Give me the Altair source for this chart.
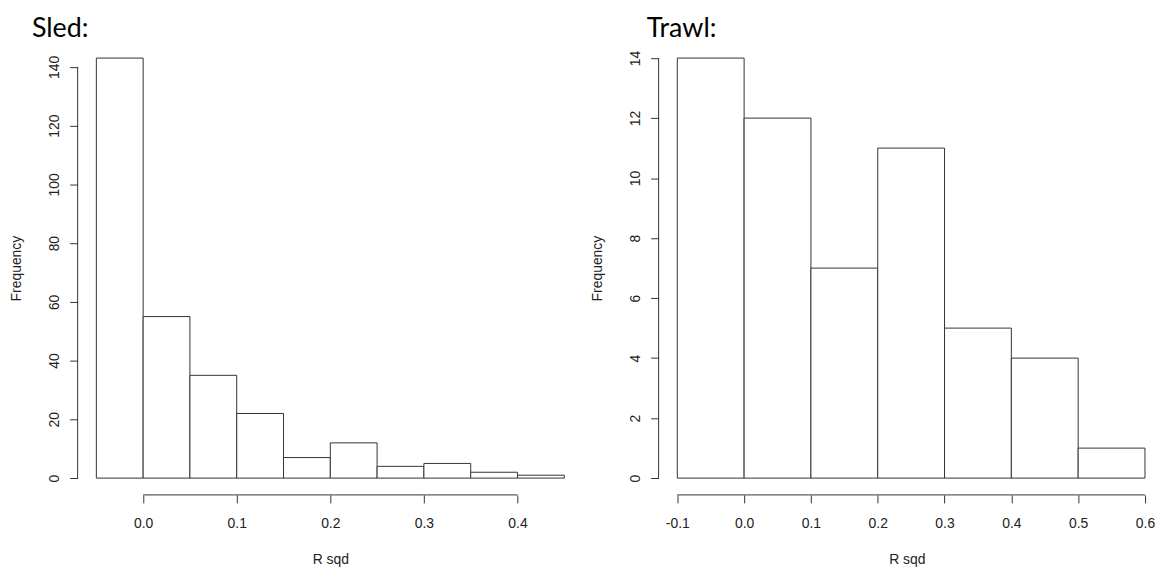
import altair as alt
import pandas as pd

# ---- data ----
sled_bin_start = [-0.05, 0.00, 0.05, 0.10, 0.15, 0.20, 0.25, 0.30, 0.35, 0.40]
sled_bin_end = [0.00, 0.05, 0.10, 0.15, 0.20, 0.25, 0.30, 0.35, 0.40, 0.45]
sled_counts = [143, 55, 35, 22, 7, 12, 4, 5, 2, 1]
sled_x_ticks = [0.0, 0.1, 0.2, 0.3, 0.4]
sled_y_ticks = [0, 20, 40, 60, 80, 100, 120, 140]

trawl_bin_start = [-0.1, 0.0, 0.1, 0.2, 0.3, 0.4, 0.5]
trawl_bin_end = [0.0, 0.1, 0.2, 0.3, 0.4, 0.5, 0.6]
trawl_counts = [14, 12, 7, 11, 5, 4, 1]
trawl_x_ticks = [-0.1, 0.0, 0.1, 0.2, 0.3, 0.4, 0.5, 0.6]
trawl_y_ticks = [0, 2, 4, 6, 8, 10, 12, 14]

FONT = "Liberation Sans"
INK = "#222222"
LINE = "#333333"


def panel(title, starts, ends, counts, xticks, yticks, xdom, ydom, w, h, title_dx):
    bars = pd.DataFrame({"start": starts, "end": ends, "count": counts})
    xscale = alt.Scale(domain=xdom, nice=False, zero=False)
    yscale = alt.Scale(domain=ydom, nice=False, zero=False)

    xaxis = alt.Axis(
        values=xticks, domain=False, grid=False, title="R sqd",
        tickSize=8, tickColor=LINE, labelPadding=14, labelFont=FONT,
        labelFontSize=14, labelColor=INK, titleFont=FONT, titleFontSize=14,
        titleFontWeight="normal", titleColor=INK, titlePadding=22,
        labelExpr="replace(format(datum.value, '.1f'), '\u2212', '-')",
    )
    yaxis = alt.Axis(
        values=yticks, domain=False, grid=False, title="Frequency",
        tickSize=8, tickColor=LINE, labelPadding=8, labelFont=FONT,
        labelFontSize=14, labelColor=INK, labelAngle=270, format="d",
        titleFont=FONT, titleFontSize=14, titleFontWeight="normal",
        titleColor=INK, titlePadding=24,
    )

    rects = alt.Chart(bars).mark_rect(
        fill="white", stroke=LINE, strokeWidth=1
    ).encode(
        x=alt.X("start:Q", scale=xscale, axis=xaxis),
        x2="end:Q",
        y=alt.Y("count:Q", scale=yscale, axis=yaxis),
        y2=alt.datum(0),
    )

    yline_df = pd.DataFrame({"lo": [yticks[0]], "hi": [yticks[-1]]})
    yline = alt.Chart(yline_df).mark_rule(color=LINE, strokeWidth=1).encode(
        x=alt.value(0),
        y=alt.Y("lo:Q", scale=yscale),
        y2="hi:Q",
    )
    xline_df = pd.DataFrame({"lo": [xticks[0]], "hi": [xticks[-1]]})
    xline = alt.Chart(xline_df).mark_rule(color=LINE, strokeWidth=1).encode(
        y=alt.value(h),
        x=alt.X("lo:Q", scale=xscale),
        x2="hi:Q",
    )

    return alt.layer(rects, yline, xline).properties(
        width=w, height=h,
        title=alt.TitleParams(
            text=title, anchor="start", frame="group", font="Lato",
            fontSize=27, fontWeight="normal", color="black", dx=title_dx,
            offset=-23, baseline="alphabetic",
        ),
    )


def ext(lo, hi, frac=0.04):
    d = (hi - lo) * frac
    return [lo - d, hi + d]


sled = panel(
    "Sled:", sled_bin_start, sled_bin_end, sled_counts, sled_x_ticks,
    sled_y_ticks, ext(sled_bin_start[0], sled_bin_end[-1]),
    ext(0, max(sled_counts)), 508, 456, -46,
)
trawl_x = ext(trawl_bin_start[0], trawl_bin_end[-1])
trawl_x[1] = 0.615
trawl = panel(
    "Trawl:", trawl_bin_start, trawl_bin_end, trawl_counts, trawl_x_ticks,
    trawl_y_ticks, trawl_x, ext(0, max(trawl_counts)), 499, 456, -12,
)

chart = alt.hconcat(sled, trawl, spacing=8).properties(
    padding={"left": 2, "top": 6, "right": 0, "bottom": 0},
    background="white",
).configure_view(stroke=None)

chart.save("out.html", embed_options={"renderer": "svg", "actions": False})
